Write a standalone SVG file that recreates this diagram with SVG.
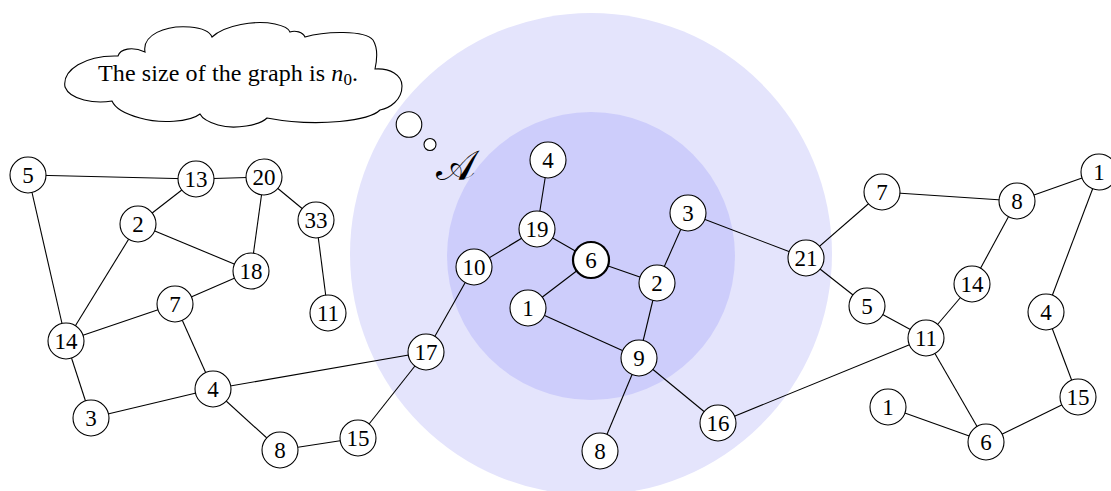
<svg xmlns="http://www.w3.org/2000/svg" width="1111" height="491" viewBox="0 0 1111 491">
  <style>
    .edge { stroke: #000; stroke-width: 1.1; fill: none; }
    .node circle { fill: #fff; stroke: #000; stroke-width: 1.1; }
    .node.root circle { stroke-width: 2.2; }
    .node text { font-family: "Liberation Serif", "DejaVu Serif", serif; font-size: 23px; text-anchor: middle; fill: #000; }
    .thought { fill: #fff; stroke: #000; stroke-width: 1.1; }
    .caption { font-family: "Liberation Serif", "DejaVu Serif", serif; font-size: 24px; fill: #000; }
  </style>

  <!-- neighbourhood discs -->
  <g id="regions">
    <circle cx="591" cy="254" r="241" fill="#e4e4fc"/>
    <circle cx="591" cy="256" r="144" fill="#cdcdfb"/>
  </g>

  <!-- thought cloud -->
  <g id="cloud">
    <path class="thought" d="M65,87 C62,70 85,55 118,56 C120,49 132,46 145,52 C142,35 165,25 190,27 C202,28 210,32 212,37 C225,25 255,20 275,24 C284,26 289,29 290,32 C295,30 303,32 305,37 C325,31 365,30 373,40 C378,48 377,60 375,69 C390,68 402,75 402,86 C402,100 390,108 380,110 C370,120 320,128 267,118 C260,125 235,130 218,125 C208,122 202,118 200,114 C190,122 160,124 140,118 C125,114 115,108 112,101 C95,104 70,100 65,87 Z"/>
    <text class="caption" x="98" y="81" textLength="260" lengthAdjust="spacing">The size of the graph is <tspan font-style="italic">n</tspan><tspan font-size="17" dy="4">0</tspan><tspan dy="-4">.</tspan></text>
    <circle class="thought" cx="409" cy="124.5" r="12.8"/>
    <circle class="thought" cx="430" cy="144.5" r="6"/>
  </g>

  <text id="label-A" x="456" y="180" font-family="DejaVu Serif, Liberation Serif, serif" font-size="42" text-anchor="middle">𝒜</text>

  <!-- connectors -->
  <g id="edges" class="edge">
    <!-- left component -->
    <line x1="28" y1="175" x2="196" y2="179"/>
    <line x1="28" y1="175" x2="66" y2="341"/>
    <line x1="196" y1="179" x2="264" y2="177"/>
    <line x1="196" y1="179" x2="138" y2="224"/>
    <line x1="264" y1="177" x2="316" y2="220"/>
    <line x1="264" y1="177" x2="251" y2="271"/>
    <line x1="138" y1="224" x2="251" y2="271"/>
    <line x1="138" y1="224" x2="66" y2="341"/>
    <line x1="316" y1="220" x2="328" y2="313"/>
    <line x1="251" y1="271" x2="175" y2="304"/>
    <line x1="175" y1="304" x2="66" y2="341"/>
    <line x1="175" y1="304" x2="213" y2="389"/>
    <line x1="66" y1="341" x2="91" y2="418"/>
    <line x1="91" y1="418" x2="213" y2="389"/>
    <line x1="213" y1="389" x2="280" y2="450"/>
    <line x1="213" y1="389" x2="426" y2="352"/>
    <line x1="280" y1="450" x2="358" y2="438"/>
    <line x1="358" y1="438" x2="426" y2="352"/>
    <!-- centre component -->
    <line x1="548" y1="160" x2="537" y2="229"/>
    <line x1="537" y1="229" x2="474" y2="267"/>
    <line x1="537" y1="229" x2="591" y2="260"/>
    <line x1="591" y1="260" x2="528" y2="308"/>
    <line x1="591" y1="260" x2="657" y2="283"/>
    <line x1="657" y1="283" x2="688" y2="213"/>
    <line x1="657" y1="283" x2="639" y2="358"/>
    <line x1="528" y1="308" x2="639" y2="358"/>
    <line x1="474" y1="267" x2="426" y2="352"/>
    <line x1="639" y1="358" x2="600" y2="451"/>
    <line x1="639" y1="358" x2="718" y2="423"/>
    <line x1="688" y1="213" x2="806" y2="258"/>
    <line x1="718" y1="423" x2="926" y2="338"/>
    <!-- right component -->
    <line x1="806" y1="258" x2="882" y2="192"/>
    <line x1="806" y1="258" x2="867" y2="306"/>
    <line x1="882" y1="192" x2="1017" y2="201"/>
    <line x1="1017" y1="201" x2="1099" y2="172"/>
    <line x1="1017" y1="201" x2="972" y2="284"/>
    <line x1="972" y1="284" x2="926" y2="338"/>
    <line x1="867" y1="306" x2="926" y2="338"/>
    <line x1="926" y1="338" x2="986" y2="442"/>
    <line x1="888" y1="407" x2="986" y2="442"/>
    <line x1="986" y1="442" x2="1078" y2="397"/>
    <line x1="1078" y1="397" x2="1046" y2="312"/>
    <line x1="1046" y1="312" x2="1099" y2="172"/>
  </g>

  <!-- left component nodes -->
  <g id="L5" class="node"><circle cx="28" cy="175" r="18"/><text x="28" y="183">5</text></g>
  <g id="L13" class="node"><circle cx="196" cy="179" r="18"/><text x="196" y="187">13</text></g>
  <g id="L20" class="node"><circle cx="264" cy="177" r="18"/><text x="264" y="185">20</text></g>
  <g id="L33" class="node"><circle cx="316" cy="220" r="18"/><text x="316" y="228">33</text></g>
  <g id="L2" class="node"><circle cx="138" cy="224" r="18"/><text x="138" y="232">2</text></g>
  <g id="L18" class="node"><circle cx="251" cy="271" r="18"/><text x="251" y="279">18</text></g>
  <g id="L11" class="node"><circle cx="328" cy="313" r="18"/><text x="328" y="321">11</text></g>
  <g id="L7" class="node"><circle cx="175" cy="304" r="18"/><text x="175" y="312">7</text></g>
  <g id="L14" class="node"><circle cx="66" cy="341" r="18"/><text x="66" y="349">14</text></g>
  <g id="L4" class="node"><circle cx="213" cy="389" r="18"/><text x="213" y="397">4</text></g>
  <g id="L3" class="node"><circle cx="91" cy="418" r="18"/><text x="91" y="426">3</text></g>
  <g id="L8" class="node"><circle cx="280" cy="450" r="18"/><text x="280" y="458">8</text></g>
  <g id="L15" class="node"><circle cx="358" cy="438" r="18"/><text x="358" y="446">15</text></g>

  <!-- centre component nodes -->
  <g id="C4" class="node"><circle cx="548" cy="160" r="18"/><text x="548" y="168">4</text></g>
  <g id="C19" class="node"><circle cx="537" cy="229" r="18"/><text x="537" y="237">19</text></g>
  <g id="C6" class="node root"><circle cx="591" cy="260" r="18"/><text x="591" y="268">6</text></g>
  <g id="C10" class="node"><circle cx="474" cy="267" r="18"/><text x="474" y="275">10</text></g>
  <g id="C3" class="node"><circle cx="688" cy="213" r="18"/><text x="688" y="221">3</text></g>
  <g id="C2" class="node"><circle cx="657" cy="283" r="18"/><text x="657" y="291">2</text></g>
  <g id="C1" class="node"><circle cx="528" cy="308" r="18"/><text x="528" y="316">1</text></g>
  <g id="C17" class="node"><circle cx="426" cy="352" r="18"/><text x="426" y="360">17</text></g>
  <g id="C9" class="node"><circle cx="639" cy="358" r="18"/><text x="639" y="366">9</text></g>
  <g id="C16" class="node"><circle cx="718" cy="423" r="18"/><text x="718" y="431">16</text></g>
  <g id="C8" class="node"><circle cx="600" cy="451" r="18"/><text x="600" y="459">8</text></g>

  <!-- right component nodes -->
  <g id="R7" class="node"><circle cx="882" cy="192" r="18"/><text x="882" y="200">7</text></g>
  <g id="R8" class="node"><circle cx="1017" cy="201" r="18"/><text x="1017" y="209">8</text></g>
  <g id="R1a" class="node"><circle cx="1099" cy="172" r="18"/><text x="1099" y="180">1</text></g>
  <g id="R21" class="node"><circle cx="806" cy="258" r="18"/><text x="806" y="266">21</text></g>
  <g id="R14" class="node"><circle cx="972" cy="284" r="18"/><text x="972" y="292">14</text></g>
  <g id="R5" class="node"><circle cx="867" cy="306" r="18"/><text x="867" y="314">5</text></g>
  <g id="R4" class="node"><circle cx="1046" cy="312" r="18"/><text x="1046" y="320">4</text></g>
  <g id="R11" class="node"><circle cx="926" cy="338" r="18"/><text x="926" y="346">11</text></g>
  <g id="R1b" class="node"><circle cx="888" cy="407" r="18"/><text x="888" y="415">1</text></g>
  <g id="R15" class="node"><circle cx="1078" cy="397" r="18"/><text x="1078" y="405">15</text></g>
  <g id="R6" class="node"><circle cx="986" cy="442" r="18"/><text x="986" y="450">6</text></g>
</svg>
